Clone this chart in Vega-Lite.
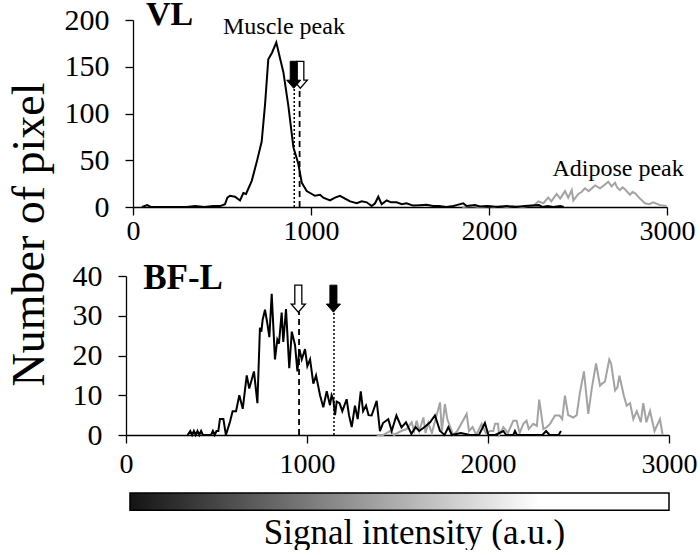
{
  "$schema": "https://vega.github.io/schema/vega-lite/v6.json",
  "padding": {"left": 5, "top": -2, "right": 0, "bottom": 0},
  "bounds": "flush",
  "spacing": 69,
  "config": {
    "font": "Liberation Serif",
    "view": {"stroke": null},
    "axis": {
      "labelFont": "Liberation Serif", "titleFont": "Liberation Serif",
      "labelColor": "black", "titleColor": "black",
      "domainColor": "black", "tickColor": "black", "grid": false,
      "labelFontSize": 28, "titleFontSize": 35, "titleFontWeight": "normal",
      "tickSize": 8, "domainWidth": 1.3, "tickWidth": 1.3, "labelFlush": false
    }
  },
  "datasets": {
    "vl_muscle": [
      {"v":50,"c":0},{"v":80,"c":2},{"v":100,"c":0},{"v":300,"c":0},{"v":350,"c":1},{"v":400,"c":0},{"v":450,"c":1},{"v":490,"c":1},{"v":517,"c":3},{"v":530,"c":10},{"v":545,"c":12},{"v":573,"c":11},{"v":601,"c":7},{"v":620,"c":15},{"v":635,"c":14},{"v":667,"c":28},{"v":695,"c":48},{"v":723,"c":70},{"v":742,"c":110},{"v":760,"c":158},{"v":781,"c":165},{"v":805,"c":176},{"v":825,"c":160},{"v":845,"c":144},{"v":873,"c":108},{"v":901,"c":64},{"v":929,"c":46},{"v":948,"c":26},{"v":976,"c":17},{"v":1022,"c":12},{"v":1051,"c":13},{"v":1069,"c":10},{"v":1107,"c":7},{"v":1135,"c":10},{"v":1163,"c":12},{"v":1191,"c":9},{"v":1220,"c":6},{"v":1257,"c":4},{"v":1285,"c":6},{"v":1313,"c":5},{"v":1341,"c":1},{"v":1360,"c":4},{"v":1378,"c":11},{"v":1397,"c":3},{"v":1425,"c":7},{"v":1450,"c":5},{"v":1481,"c":5},{"v":1510,"c":3},{"v":1537,"c":4},{"v":1573,"c":1.5},{"v":1612,"c":2},{"v":1649,"c":2.5},{"v":1685,"c":1},{"v":1720,"c":1},{"v":1760,"c":0},{"v":1800,"c":1},{"v":1818,"c":2},{"v":1855,"c":4},{"v":1874,"c":1},{"v":1921,"c":2},{"v":1949,"c":0.5},{"v":1990,"c":1},{"v":2050,"c":0},{"v":2100,"c":1},{"v":2150,"c":0},{"v":2200,"c":1},{"v":2280,"c":2},{"v":2300,"c":0},{"v":2330,"c":1},{"v":2360,"c":0},{"v":2400,"c":1},{"v":2420,"c":0}
    ],
    "vl_adipose": [
      {"v":1850,"c":0},{"v":1900,"c":1},{"v":1950,"c":0},{"v":2000,"c":1},{"v":2030,"c":0},{"v":2060,"c":1},{"v":2100,"c":0},{"v":2140,"c":1},{"v":2180,"c":0},{"v":2220,"c":1},{"v":2250,"c":1},{"v":2277,"c":6},{"v":2305,"c":4},{"v":2333,"c":10},{"v":2350,"c":6},{"v":2380,"c":14},{"v":2400,"c":9},{"v":2427,"c":17},{"v":2445,"c":10},{"v":2465,"c":18},{"v":2474,"c":7},{"v":2502,"c":14},{"v":2520,"c":16},{"v":2539,"c":20},{"v":2560,"c":17},{"v":2596,"c":23},{"v":2624,"c":20},{"v":2652,"c":24},{"v":2670,"c":27},{"v":2689,"c":22},{"v":2708,"c":26},{"v":2720,"c":21},{"v":2736,"c":18},{"v":2750,"c":21},{"v":2764,"c":19},{"v":2792,"c":13},{"v":2806,"c":16},{"v":2820,"c":15},{"v":2848,"c":9},{"v":2876,"c":4},{"v":2900,"c":3},{"v":2923,"c":5},{"v":2961,"c":2},{"v":2998,"c":1}
    ],
    "bf_muscle": [
      {"v":340,"c":0},{"v":355,"c":1},{"v":365,"c":0},{"v":375,"c":1},{"v":385,"c":0},{"v":395,"c":1},{"v":405,"c":0},{"v":415,"c":1},{"v":425,"c":0},{"v":470,"c":0},{"v":480,"c":1},{"v":490,"c":0},{"v":500,"c":1},{"v":510,"c":1},{"v":519,"c":4},{"v":538,"c":4},{"v":552,"c":0},{"v":575,"c":3.4},{"v":589,"c":6},{"v":608,"c":6},{"v":626,"c":10},{"v":645,"c":6.6},{"v":667,"c":15},{"v":681,"c":11.7},{"v":707,"c":16},{"v":726,"c":8},{"v":740,"c":27},{"v":748,"c":26},{"v":755,"c":29},{"v":768,"c":31.5},{"v":781,"c":28},{"v":792,"c":24.6},{"v":805,"c":35.5},{"v":823,"c":19},{"v":836,"c":24},{"v":845,"c":23},{"v":860,"c":30.8},{"v":869,"c":23.4},{"v":884,"c":31.7},{"v":902,"c":16.8},{"v":916,"c":26},{"v":934,"c":22.6},{"v":947,"c":16},{"v":958,"c":21.6},{"v":971,"c":19},{"v":989,"c":21.6},{"v":1002,"c":17.3},{"v":1017,"c":19},{"v":1035,"c":12.9},{"v":1050,"c":15},{"v":1072,"c":10},{"v":1090,"c":7},{"v":1109,"c":11},{"v":1127,"c":7.5},{"v":1136,"c":10},{"v":1145,"c":9},{"v":1155,"c":5},{"v":1164,"c":8.4},{"v":1180,"c":8},{"v":1195,"c":6},{"v":1219,"c":9},{"v":1232,"c":5},{"v":1247,"c":2},{"v":1265,"c":7.4},{"v":1280,"c":4},{"v":1297,"c":11},{"v":1310,"c":6},{"v":1326,"c":7.4},{"v":1340,"c":5},{"v":1357,"c":4.9},{"v":1385,"c":8.6},{"v":1403,"c":1},{"v":1420,"c":3},{"v":1449,"c":4},{"v":1468,"c":1},{"v":1494,"c":4.9},{"v":1522,"c":1.9},{"v":1547,"c":3.2},{"v":1577,"c":0.3},{"v":1600,"c":2},{"v":1620,"c":1},{"v":1650,"c":2},{"v":1680,"c":3.2},{"v":1707,"c":4.9},{"v":1735,"c":1},{"v":1760,"c":0},{"v":1781,"c":2},{"v":1800,"c":0},{"v":1850,"c":0.5},{"v":1900,"c":0},{"v":1950,"c":0},{"v":1983,"c":3},{"v":2002,"c":0},{"v":2040,"c":0},{"v":2085,"c":1},{"v":2100,"c":0},{"v":2140,"c":0},{"v":2149,"c":1},{"v":2160,"c":0},{"v":2300,"c":0},{"v":2321,"c":1},{"v":2340,"c":0},{"v":2390,"c":0},{"v":2403,"c":1}
    ],
    "bf_adipose": [
      {"v":1385,"c":0},{"v":1420,"c":0},{"v":1459,"c":1},{"v":1480,"c":0},{"v":1520,"c":1},{"v":1551,"c":1.5},{"v":1578,"c":3.2},{"v":1592,"c":1},{"v":1606,"c":3.6},{"v":1620,"c":1},{"v":1643,"c":4.4},{"v":1655,"c":0.5},{"v":1670,"c":3},{"v":1690,"c":0.5},{"v":1735,"c":8.2},{"v":1745,"c":1},{"v":1762,"c":7.8},{"v":1775,"c":4},{"v":1808,"c":0},{"v":1830,"c":1},{"v":1882,"c":5.3},{"v":1895,"c":1},{"v":1915,"c":2},{"v":1935,"c":0},{"v":1965,"c":2.8},{"v":1990,"c":0.3},{"v":2011,"c":1},{"v":2029,"c":1},{"v":2039,"c":2.8},{"v":2055,"c":2.8},{"v":2062,"c":0},{"v":2085,"c":2},{"v":2110,"c":0.5},{"v":2140,"c":3.6},{"v":2158,"c":3.6},{"v":2175,"c":0.5},{"v":2195,"c":2.8},{"v":2213,"c":3.6},{"v":2225,"c":1.5},{"v":2250,"c":2.8},{"v":2270,"c":2.3},{"v":2283,"c":8.9},{"v":2306,"c":1.5},{"v":2325,"c":2},{"v":2343,"c":2.8},{"v":2370,"c":4.9},{"v":2395,"c":4.9},{"v":2410,"c":4},{"v":2425,"c":9.9},{"v":2443,"c":5},{"v":2471,"c":4.4},{"v":2490,"c":5},{"v":2508,"c":10.7},{"v":2530,"c":16},{"v":2554,"c":5.3},{"v":2573,"c":11.6},{"v":2597,"c":18},{"v":2619,"c":12.4},{"v":2632,"c":13},{"v":2646,"c":13.4},{"v":2670,"c":19},{"v":2680,"c":18},{"v":2702,"c":11.2},{"v":2715,"c":12},{"v":2726,"c":14.9},{"v":2750,"c":10},{"v":2766,"c":7.4},{"v":2785,"c":8},{"v":2803,"c":4},{"v":2822,"c":6},{"v":2844,"c":3.2},{"v":2858,"c":8},{"v":2875,"c":3.2},{"v":2895,"c":6.1},{"v":2920,"c":1},{"v":2950,"c":4},{"v":2965,"c":0}
    ]
  },
  "vconcat": [
    {
      "width": 543, "height": 187,
      "encoding": {
        "x": {"field": "v", "type": "quantitative",
              "scale": {"domain": [0, 3000], "range": [7, 541], "nice": false, "zero": false},
              "axis": {"values": [0, 1000, 2000, 3000], "format": "d", "title": null, "labelPadding": 2}},
        "y": {"field": "c", "type": "quantitative",
              "scale": {"domain": [0, 200], "nice": false},
              "axis": {"values": [0, 50, 100, 150, 200], "offset": -7, "labelPadding": 16, "labelFontSize": 30,
                       "title": "Number of pixel", "titleFontSize": 46, "titleAngle": -90, "titleX": -104, "titleY": 214,
                       "titleBaseline": "middle", "titleAlign": "center"}}
      },
      "layer": [
        {"data": {"name": "vl_adipose"}, "mark": {"type": "line", "color": "#a3a3a3", "strokeWidth": 2}},
        {"data": {"name": "vl_muscle"}, "mark": {"type": "line", "color": "black", "strokeWidth": 2}},
        {"data": {"values": [{"v": 906, "c": 0, "c2": 127}]}, "mark": {"type": "rule", "color": "black", "strokeWidth": 1.5, "strokeDash": [2, 2]}, "encoding": {"y2": {"field": "c2"}}},
        {"data": {"values": [{"v": 936, "c": 0, "c2": 127}]}, "mark": {"type": "rule", "color": "black", "strokeWidth": 1.8, "strokeDash": [6, 4]}, "encoding": {"y2": {"field": "c2"}}},
        {"data": {"values": [{"v": 940, "c": 141.4}]}, "mark": {"type": "point", "filled": true, "fill": "white", "stroke": "black", "strokeWidth": 1.3, "opacity": 1, "size": 729, "shape": "M-0.26,-1L0.26,-1L0.26,0.4L0.52,0.4L0,1L-0.52,0.4L-0.26,0.4Z"}},
        {"data": {"values": [{"v": 903, "c": 141.4}]}, "mark": {"type": "point", "filled": true, "fill": "black", "stroke": "black", "strokeWidth": 1, "opacity": 1, "size": 729, "shape": "M-0.26,-1L0.26,-1L0.26,0.4L0.52,0.4L0,1L-0.52,0.4L-0.26,0.4Z"}},
        {"data": {"values": [{"v": 205, "c": 194.5, "t": "VL"}]}, "mark": {"type": "text", "font": "Liberation Serif", "fontWeight": "bold", "fontSize": 34, "align": "center", "baseline": "alphabetic"}, "encoding": {"text": {"field": "t"}}},
        {"data": {"values": [{"v": 848, "c": 185, "t": "Muscle peak"}, {"v": 2725, "c": 33.5, "t": "Adipose peak"}]}, "mark": {"type": "text", "font": "Liberation Serif", "fontSize": 24, "align": "center", "baseline": "alphabetic"}, "encoding": {"text": {"field": "t"}}}
      ]
    },
    {
      "width": 543, "height": 159,
      "encoding": {
        "x": {"field": "v", "type": "quantitative",
              "scale": {"domain": [0, 3000], "nice": false, "zero": false},
              "axis": {"values": [0, 1000, 2000, 3000], "format": "d", "labelPadding": 7,
                       "title": "Signal intensity (a.u.)", "titleX": 288, "titleAlign": "center", "titleY": 108, "titleBaseline": "alphabetic"}},
        "y": {"field": "c", "type": "quantitative",
              "scale": {"domain": [0, 40], "nice": false},
              "axis": {"values": [0, 10, 20, 30, 40], "labelPadding": 16, "labelFontSize": 30, "title": null}}
      },
      "layer": [
        {"data": {"values": [{"v": 22, "v2": 3000, "c": -14.6, "c2": -18.9}]},
         "mark": {"type": "rect", "stroke": "black", "strokeWidth": 1.5,
                  "fill": {"gradient": "linear", "x1": 0, "y1": 0, "x2": 1, "y2": 0,
                           "stops": [{"offset": 0, "color": "#141414"}, {"offset": 0.76, "color": "#ffffff"}, {"offset": 1, "color": "#ffffff"}]}},
         "encoding": {"x2": {"field": "v2"}, "y2": {"field": "c2"}}},
        {"data": {"name": "bf_adipose"}, "mark": {"type": "line", "color": "#a3a3a3", "strokeWidth": 2}},
        {"data": {"name": "bf_muscle"}, "mark": {"type": "line", "color": "black", "strokeWidth": 2}},
        {"data": {"values": [{"v": 956, "c": 0, "c2": 31}]}, "mark": {"type": "rule", "color": "black", "strokeWidth": 1.8, "strokeDash": [6, 4]}, "encoding": {"y2": {"field": "c2"}}},
        {"data": {"values": [{"v": 1149, "c": 0, "c2": 31}]}, "mark": {"type": "rule", "color": "black", "strokeWidth": 1.5, "strokeDash": [2, 2]}, "encoding": {"y2": {"field": "c2"}}},
        {"data": {"values": [{"v": 952, "c": 34.3}]}, "mark": {"type": "point", "filled": true, "fill": "white", "stroke": "black", "strokeWidth": 1.3, "opacity": 1, "size": 729, "shape": "M-0.26,-1L0.26,-1L0.26,0.4L0.52,0.4L0,1L-0.52,0.4L-0.26,0.4Z"}},
        {"data": {"values": [{"v": 1146, "c": 34.3}]}, "mark": {"type": "point", "filled": true, "fill": "black", "stroke": "black", "strokeWidth": 1, "opacity": 1, "size": 729, "shape": "M-0.26,-1L0.26,-1L0.26,0.4L0.52,0.4L0,1L-0.52,0.4L-0.26,0.4Z"}},
        {"data": {"values": [{"v": 315, "c": 36.7, "t": "BF-L"}]}, "mark": {"type": "text", "font": "Liberation Serif", "fontWeight": "bold", "fontSize": 35, "align": "center", "baseline": "alphabetic"}, "encoding": {"text": {"field": "t"}}}
      ]
    }
  ]
}
